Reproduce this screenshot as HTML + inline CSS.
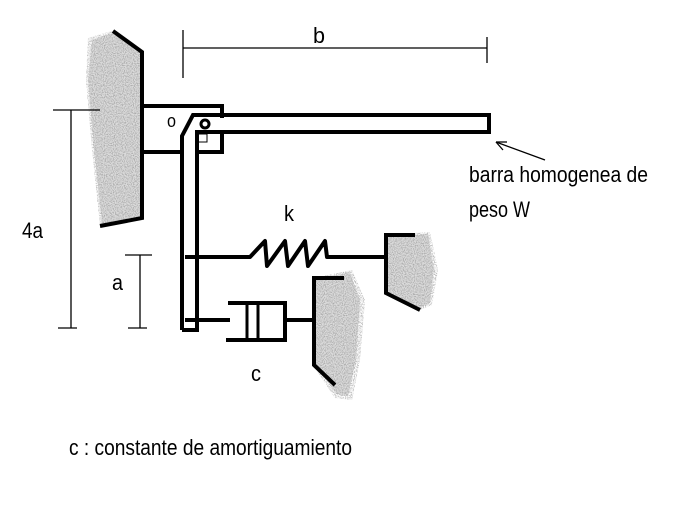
<!DOCTYPE html>
<html><head><style>html,body{margin:0;padding:0;background:#fff}svg{display:block}</style></head>
<body>
<svg width="698" height="518" viewBox="0 0 698 518" xmlns="http://www.w3.org/2000/svg">
<defs>
<filter id="n" x="0" y="0" width="100%" height="100%">
<feTurbulence type="fractalNoise" baseFrequency="0.9" numOctaves="1" seed="3" result="t"/>
<feColorMatrix in="t" type="matrix" values="0 0 0 0 0.45  0 0 0 0 0.45  0 0 0 0 0.45  0 0 0 3 -1.2"/>
<feComposite in2="SourceGraphic" operator="in"/>
</filter>
</defs>
<g font-family="Liberation Sans, sans-serif" fill="#000">
<!-- stipple areas -->
<g filter="url(#n)" fill="#000">
<polygon points="88,38 115,30 140,50 142,218 100,226 92,150 86,80"/>
<polygon points="385,235 430,232 438,270 432,305 420,310 385,293"/>
<polygon points="313,278 352,270 365,300 360,360 352,400 335,398 313,365"/>
</g>
<g opacity="0.35">
<polygon points="92,40 115,32 140,52 141,216 102,224 94,150 88,80" fill="#999"/>
<polygon points="387,237 428,234 434,270 430,303 420,308 387,291" fill="#999"/>
<polygon points="315,280 350,272 360,300 356,360 348,396 336,394 315,363" fill="#999"/>
</g>
<!-- left wall -->
<polyline points="113,31 142,52 142,218 100,226" fill="none" stroke="#000" stroke-width="4"/>
<!-- bracket -->
<polyline points="142,106 222,106 222,118" fill="none" stroke="#000" stroke-width="4"/>
<line x1="142" y1="152" x2="182" y2="152" stroke="#000" stroke-width="4"/>
<polyline points="197,152 222,152 222,132" fill="none" stroke="#000" stroke-width="4"/>
<!-- bar -->
<polyline points="182,330 182,136 193,115 489,115 489,132 197,132 197,330 182,330" fill="none" stroke="#000" stroke-width="4" stroke-linejoin="miter"/>
<circle cx="205" cy="124" r="4" fill="none" stroke="#000" stroke-width="3"/>
<rect x="198" y="134" width="9" height="8" fill="none" stroke="#000" stroke-width="1"/>
<!-- spring -->
<polyline points="185,257 250,257 265,241 267,266 285,241 288,266 305,241 308,266 325,241 327,257 385,257" fill="none" stroke="#000" stroke-width="4" stroke-linejoin="round"/>
<!-- right wall spring -->
<polyline points="415,235 386,235 386,293 420,310" fill="none" stroke="#000" stroke-width="4"/>
<!-- damper -->
<line x1="185" y1="320" x2="230" y2="320" stroke="#000" stroke-width="4"/>
<polyline points="228,303 285,303 285,340 226,340" fill="none" stroke="#000" stroke-width="4"/>
<line x1="247" y1="303" x2="247" y2="340" stroke="#000" stroke-width="3"/>
<line x1="258" y1="303" x2="258" y2="340" stroke="#000" stroke-width="3"/>
<line x1="285" y1="320" x2="314" y2="320" stroke="#000" stroke-width="4"/>
<polyline points="344,278 314,278 314,365 335,385" fill="none" stroke="#000" stroke-width="4"/>
<!-- dimensions -->
<g stroke="#000" stroke-width="1.3">
<line x1="183" y1="30" x2="183" y2="78"/>
<line x1="183" y1="48" x2="487" y2="48"/>
<line x1="487" y1="37" x2="487" y2="63"/>
<line x1="53" y1="110" x2="100" y2="110"/>
<line x1="71" y1="110" x2="71" y2="328"/>
<line x1="58" y1="328" x2="77" y2="328"/>
<line x1="125" y1="255" x2="152" y2="255"/>
<line x1="140" y1="255" x2="140" y2="328"/>
<line x1="128" y1="328" x2="147" y2="328"/>
<line x1="545" y1="160" x2="496" y2="142"/>
<line x1="496" y1="142" x2="507" y2="142"/>
<line x1="496" y1="142" x2="503" y2="150"/>
</g>
<g font-size="22">
<text x="313" y="43" textLength="12" lengthAdjust="spacingAndGlyphs">b</text>
<text x="167" y="127" font-size="18" textLength="9" lengthAdjust="spacingAndGlyphs">o</text>
<text x="284" y="221" textLength="10" lengthAdjust="spacingAndGlyphs">k</text>
<text x="22" y="238" textLength="21" lengthAdjust="spacingAndGlyphs">4a</text>
<text x="112" y="290" textLength="11" lengthAdjust="spacingAndGlyphs">a</text>
<text x="251" y="381" textLength="10" lengthAdjust="spacingAndGlyphs">c</text>
<text x="469" y="182" textLength="179" lengthAdjust="spacingAndGlyphs">barra homogenea de</text>
<text x="469" y="217" textLength="61" lengthAdjust="spacingAndGlyphs">peso W</text>
<text x="69" y="455" textLength="283" lengthAdjust="spacingAndGlyphs">c : constante de amortiguamiento</text>
</g>
</g>
</svg>
</body></html>
